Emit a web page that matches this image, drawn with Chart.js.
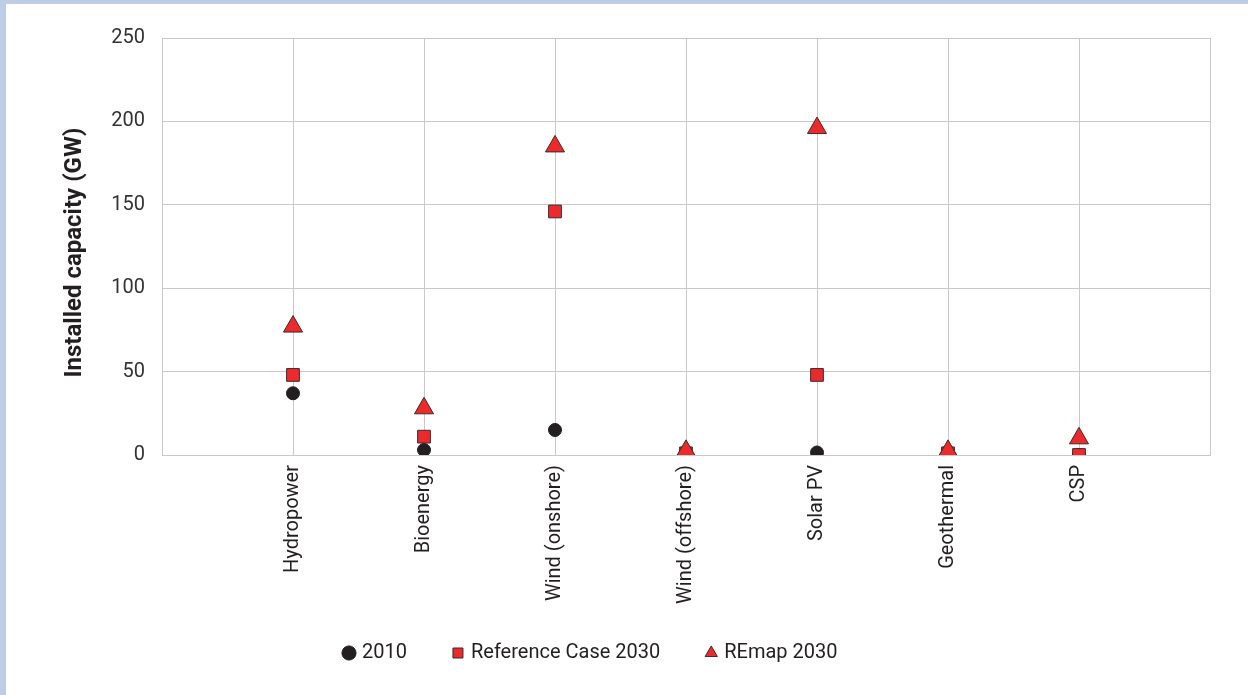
<!DOCTYPE html>
<html>
<head>
<meta charset="utf-8">
<script src="https://cdn.jsdelivr.net/npm/chart.js@4.4.1/dist/chart.umd.min.js"></script>
<style>
  html, body { margin: 0; padding: 0; }
  body { width: 1248px; height: 695px; background: #bccde5; position: relative; overflow: hidden; }
  #panel { position: absolute; left: 6px; top: 4px; right: 0; bottom: 0; background: #fff; }
  #chart { position: absolute; left: 0; top: 0; }
</style>
</head>
<body>
<div id="panel"></div>
<canvas id="chart" width="1248" height="695"></canvas>
<script>
const categories = ["Hydropower", "Bioenergy", "Wind (onshore)", "Wind (offshore)", "Solar PV", "Geothermal", "CSP"];
const seriesNames = ["2010", "Reference Case 2030", "REmap 2030"];
const values2010 = [37, 3, 15, 0, 1.5, 0, 0];
const valuesRef2030 = [48, 11, 146, 1, 48, 1, 0];
const valuesRemap2030 = [77, 28, 185, 2.5, 196, 2.5, 10];
const yTicks = [0, 50, 100, 150, 200, 250];
const yTitle = "Installed capacity (GW)";

const RED = "#ed2a2b";
const DARK = "#231f20";
const GRID = "#c9c9c9";
const FONT = "Roboto, 'Open Sans', sans-serif";

const toPoints = vals => vals.map((v, i) => ({ x: i + 1, y: v }));

// move the legend row to where it sits in the original
const legendPlace = {
  id: "legendPlace",
  afterLayout(chart) {
    const lg = chart.legend;
    const pad = lg.options.labels.padding;
    const start = (lg.left + pad + lg.right - lg.lineWidths[0]) / 2;
    const dx = 346 - start;
    const dy = 653 - (lg.top + pad + 10);
    lg.left += dx; lg.right += dx;
    lg.top += dy; lg.bottom += dy;
  }
};

// y axis title, drawn a little below the plot centre as in the original
const axisTitle = {
  id: "axisTitle",
  afterDraw(chart) {
    const { ctx, chartArea } = chart;
    ctx.save();
    ctx.translate(75, (chartArea.top + chartArea.bottom) / 2 + 6);
    ctx.rotate(-Math.PI / 2);
    ctx.font = "bold 24px " + FONT;
    ctx.fillStyle = DARK;
    ctx.textAlign = "center";
    ctx.textBaseline = "middle";
    ctx.fillText(yTitle, 0, 0);
    ctx.restore();
  }
};

new Chart(document.getElementById("chart").getContext("2d"), {
  type: "scatter",
  data: {
    datasets: [
      {
        label: seriesNames[0],
        data: toPoints(values2010),
        pointStyle: "circle",
        pointRadius: 6.5,
        pointHoverRadius: 6.5,
        backgroundColor: DARK,
        borderColor: DARK,
        borderWidth: 1,
        order: 3
      },
      {
        label: seriesNames[1],
        data: toPoints(valuesRef2030),
        pointStyle: "rect",
        pointRadius: 9,
        pointHoverRadius: 9,
        backgroundColor: RED,
        borderColor: "#3a2b2b",
        borderWidth: 1,
        order: 2
      },
      {
        label: seriesNames[2],
        data: toPoints(valuesRemap2030),
        pointStyle: "triangle",
        pointRadius: 11,
        pointHoverRadius: 11,
        backgroundColor: RED,
        borderColor: "#3a2b2b",
        borderWidth: 1,
        order: 1
      }
    ]
  },
  options: {
    responsive: false,
    animation: false,
    layout: { padding: { left: 62, right: 38, top: 38, bottom: 0 } },
    plugins: {
      tooltip: { enabled: false },
      legend: {
        position: "bottom",
        labels: {
          usePointStyle: true,
          boxHeight: 10,
          boxWidth: 6,
          padding: 48,
          color: DARK,
          font: { family: FONT, size: 20 },
          sort: (a, b) => a.datasetIndex - b.datasetIndex
        }
      }
    },
    scales: {
      x: {
        type: "linear",
        min: 0,
        max: categories.length + 1,
        afterBuildTicks: scale => {
          scale.ticks = [];
          for (let i = 0; i <= categories.length + 1; i++) scale.ticks.push({ value: i });
        },
        afterFit: scale => {
          scale.height = scale.chart.height - 455 - scale.chart.legend.height;
        },
        ticks: {
          autoSkip: false,
          maxRotation: 90,
          minRotation: 90,
          padding: 10,
          color: DARK,
          font: { family: FONT, size: 20 },
          callback: v => categories[v - 1] || ""
        },
        grid: { color: GRID, lineWidth: 1, drawTicks: false },
        border: { color: GRID, width: 1 }
      },
      y: {
        min: 0,
        max: 250,
        afterBuildTicks: scale => { scale.ticks = yTicks.map(v => ({ value: v })); },
        afterFit: scale => { scale.width = 100; },
        ticks: {
          padding: 17,
          color: "#333",
          font: { family: FONT, size: 20 }
        },
        grid: { color: GRID, lineWidth: 1, drawTicks: false },
        border: { color: GRID, width: 1 },
        title: { display: false }
      }
    }
  },
  plugins: [legendPlace, axisTitle]
});
</script>
</body>
</html>
